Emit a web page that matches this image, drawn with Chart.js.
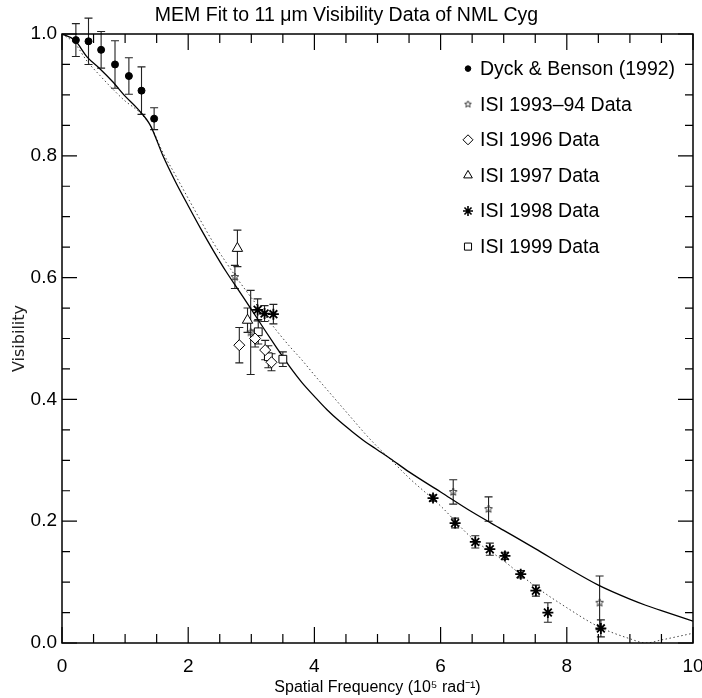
<!DOCTYPE html>
<html><head><meta charset="utf-8">
<script src="https://cdn.jsdelivr.net/npm/chart.js@4.4.1/dist/chart.umd.min.js"></script>
<style>html,body{margin:0;padding:0;background:#fff;}</style>
</head><body>
<canvas id="c" width="702" height="698"></canvas>
<script>
const FONT = "'Liberation Sans',Arial,sans-serif";

// model curves
const curveX  = [0,0.2,0.4,0.6,0.8,1.0,1.2,1.4,1.6,1.8,2.0,2.2,2.4,2.6,2.8,3.0,3.2,3.4,3.6,3.8,4.0,4.2,4.4,4.6,4.8,5.0,5.2,5.5,6.0,6.5,7.0,7.5,8.0,8.5,9.0,9.25,9.5,10];
const memFit  = [1.000,0.990,0.962,0.943,0.922,0.898,0.877,0.850,0.800,0.757,0.718,0.680,0.644,0.610,0.579,0.548,0.516,0.485,0.455,0.428,0.405,0.383,0.364,0.347,0.331,0.317,0.303,0.281,0.248,0.215,0.185,0.155,0.124,0.095,0.072,0.062,0.053,0.036];
const dotFit  = [1.000,0.985,0.955,0.932,0.910,0.890,0.874,0.850,0.805,0.768,0.730,0.693,0.657,0.625,0.595,0.567,0.540,0.513,0.488,0.465,0.440,0.416,0.392,0.368,0.344,0.322,0.302,0.271,0.225,0.172,0.135,0.093,0.058,0.027,0.007,0.000,0.005,0.016];

// observations
const dyckX = [0.22,0.42,0.62,0.84,1.06,1.26,1.46];
const dyckV = [0.990,0.988,0.974,0.950,0.931,0.907,0.861];
const dyckE = [0.027,0.038,0.030,0.039,0.030,0.039,0.018];

const isi9394X = [2.74,2.99,6.20,6.76,8.52];
const isi9394V = [0.601,0.510,0.248,0.220,0.066];
const isi9394E = [0.019,0.069,0.020,0.020,0.044];

const isi96X = [2.81,3.06,3.22,3.32];
const isi96V = [0.489,0.500,0.481,0.461];
const isi96E = [0.029,0.014,0.016,0.014];

const isi97X = [2.78,2.94];
const isi97V = [0.648,0.530];
const isi97E = [0.030,0.020];

const isi98X = [3.10,3.21,3.35,5.88,6.23,6.55,6.78,7.02,7.27,7.51,7.70,8.54];
const isi98V = [0.547,0.541,0.540,0.238,0.197,0.166,0.154,0.143,0.113,0.086,0.050,0.024];
const isi98E = [0.018,0.013,0.016,0.005,0.008,0.010,0.010,0.006,0.006,0.009,0.016,0.014];

const isi99X = [3.11,3.27,3.50];
const isi99V = [0.511,0.470,0.466];
const isi99E = [0.020,0.018,0.012];

const legendLabels = ['Dyck & Benson (1992)','ISI 1993\u201394 Data','ISI 1996 Data','ISI 1997 Data','ISI 1998 Data','ISI 1999 Data'];
const xTicks = [0,2,4,6,8,10];
const xTickLabels = ['0','2','4','6','8','10'];
const yTicks = [0,0.2,0.4,0.6,0.8,1.0];
const yTickLabels = ['0.0','0.2','0.4','0.6','0.8','1.0'];

function pts(xs, ys, es){ return xs.map((x,i)=>({x:x, y:ys[i], e: es? es[i] : 0})); }

function makeStar(r, lw){
  const s = Math.ceil(r*2+4);
  const c = document.createElement('canvas'); c.width = s; c.height = s;
  const g = c.getContext('2d');
  g.strokeStyle = '#333'; g.lineWidth = lw;
  g.beginPath();
  for (let i=0;i<10;i++){
    const a = -Math.PI/2 + i*Math.PI/5;
    const rr = (i%2) ? r*0.45 : r;
    g.lineTo(s/2 + rr*Math.cos(a), s/2 + rr*Math.sin(a));
  }
  g.closePath(); g.stroke();
  return c;
}
const smallStar = makeStar(4, 1);
const legendStar = makeStar(3.5, 1);

const obsStyle = [
  {pointStyle:'circle', radius:3.5, bg:'#000', bw:1},
  {pointStyle:smallStar, radius:4, bg:'#fff', bw:1},
  {pointStyle:'rectRot', radius:5.5, bg:'#fff', bw:1},
  {pointStyle:'triangle', radius:6, bg:'#fff', bw:1},
  {pointStyle:'star', radius:5.5, bg:'#000', bw:1.8},
  {pointStyle:'rect', radius:5.5, bg:'#fff', bw:1}
];
const legendStyle = [
  {pointStyle:'circle', radius:2.8, bg:'#000', bw:1},
  {pointStyle:legendStar, radius:3.5, bg:'#fff', bw:1},
  {pointStyle:'rectRot', radius:5, bg:'#fff', bw:1},
  {pointStyle:'triangle', radius:5, bg:'#fff', bw:1},
  {pointStyle:'star', radius:5, bg:'#000', bw:1.6},
  {pointStyle:'rect', radius:5, bg:'#fff', bw:1}
];

const obs = [
  pts(dyckX,dyckV,dyckE), pts(isi9394X,isi9394V,isi9394E), pts(isi96X,isi96V,isi96E),
  pts(isi97X,isi97V,isi97E), pts(isi98X,isi98V,isi98E), pts(isi99X,isi99V,isi99E)
];

const datasets = obs.map((d,i)=>({
  label: legendLabels[i], data: d, showLine:false,
  pointStyle: obsStyle[i].pointStyle, pointRadius: obsStyle[i].radius,
  pointBackgroundColor: obsStyle[i].bg, pointBorderColor:'#000', pointBorderWidth: obsStyle[i].bw,
  errorBars: true
}));
datasets.push({label:'MEM', data: pts(curveX, memFit), showLine:true, pointRadius:0, borderColor:'#000', borderWidth:1.3, cubicInterpolationMode:'monotone', fill:false});
datasets.push({label:'dotted', data: pts(curveX, dotFit), showLine:true, pointRadius:0, borderColor:'#444', borderWidth:1, borderDash:[1.5,2.5], cubicInterpolationMode:'monotone', fill:false});

const errorBarPlugin = {
  id:'errorBars',
  beforeDatasetsDraw(chart){
    const ctx = chart.ctx, xs = chart.scales.x, ys = chart.scales.y;
    ctx.save();
    ctx.strokeStyle = '#222'; ctx.lineWidth = 1.1;
    chart.data.datasets.forEach(ds=>{
      if (!ds.errorBars) return;
      ds.data.forEach(p=>{
        if (!p.e) return;
        const px = xs.getPixelForValue(p.x);
        const y1 = ys.getPixelForValue(p.y + p.e), y2 = ys.getPixelForValue(p.y - p.e);
        ctx.beginPath();
        ctx.moveTo(px, y1); ctx.lineTo(px, y2);
        ctx.moveTo(px-4, y1); ctx.lineTo(px+4, y1);
        ctx.moveTo(px-4, y2); ctx.lineTo(px+4, y2);
        ctx.stroke();
      });
    });
    ctx.restore();
  }
};

const framePlugin = {
  id:'frame',
  afterDraw(chart){
    const ctx = chart.ctx, a = chart.chartArea, xs = chart.scales.x, ys = chart.scales.y;
    ctx.save();
    ctx.strokeStyle = '#000'; ctx.lineWidth = 1.5;
    ctx.strokeRect(a.left, a.top, a.right - a.left, a.bottom - a.top);
    ctx.lineWidth = 1.2;
    ctx.beginPath();
    for (let k=0;k<=20;k++){
      const v = k*0.5, px = xs.getPixelForValue(v);
      const L = (k%4===0) ? 16 : 9;
      ctx.moveTo(px, a.bottom); ctx.lineTo(px, a.bottom - L);
      ctx.moveTo(px, a.top); ctx.lineTo(px, a.top + L);
    }
    for (let k=0;k<=20;k++){
      const v = k*0.05, py = ys.getPixelForValue(v);
      const L = (k%4===0) ? 15 : 8;
      ctx.moveTo(a.left, py); ctx.lineTo(a.left + L, py);
      ctx.moveTo(a.right, py); ctx.lineTo(a.right - L, py);
    }
    ctx.stroke();
    ctx.restore();
  }
};

const legendPlugin = {
  id:'customLegend',
  afterDraw(chart){
    const ctx = chart.ctx, a = chart.chartArea;
    const mx = a.right - 225, tx = a.right - 213;
    ctx.save();
    ctx.font = '19.5px ' + FONT;
    ctx.fillStyle = '#000';
    ctx.textBaseline = 'middle';
    ctx.textAlign = 'left';
    legendLabels.forEach((lab,i)=>{
      const y = a.top + 34.6 + i*35.6;
      const st = legendStyle[i];
      ctx.save();
      ctx.fillStyle = st.bg; ctx.strokeStyle = '#000'; ctx.lineWidth = st.bw;
      Chart.helpers.drawPoint(ctx, {pointStyle: st.pointStyle, radius: st.radius, borderWidth: st.bw, rotation: 0}, mx, y);
      ctx.restore();
      ctx.fillText(lab, tx, y + 1);
    });
    ctx.restore();
  }
};

new Chart(document.getElementById('c'), {
  type:'scatter',
  data:{datasets},
  plugins:[errorBarPlugin, framePlugin, legendPlugin],
  options:{
    responsive:false, animation:false,
    layout:{padding:{left:0,right:9,top:0,bottom:0}},
    plugins:{
      legend:{display:false}, tooltip:{enabled:false},
      title:{display:true, text:'MEM Fit to 11 \u03bcm Visibility Data of NML Cyg', color:'#000',
        font:{family:FONT, size:19.5, weight:'normal'}, padding:{top:4,bottom:6.6}}
    },
    scales:{
      x:{type:'linear', min:0, max:10,
        afterFit(s){ s.height = 55; s.paddingLeft = 0; s.paddingRight = 0; },
        afterBuildTicks(s){ s.ticks = xTicks.map(v=>({value:v})); },
        ticks:{callback:(v,i)=>xTickLabels[i], color:'#000', font:{family:FONT,size:19}, padding:12, maxRotation:0, autoSkip:false},
        grid:{display:false, drawTicks:false}, border:{display:false},
        title:{display:true, text:'Spatial Frequency (10\u2075 rad\u207b\u00b9)', color:'#000', font:{family:FONT,size:16}, padding:{top:0,bottom:1}}
      },
      y:{type:'linear', min:0, max:1,
        afterFit(s){ s.width = 62; s.paddingTop = 0; s.paddingBottom = 0; },
        afterBuildTicks(s){ s.ticks = yTicks.map(v=>({value:v})); },
        ticks:{callback:(v,i)=>yTickLabels[i], color:'#000', font:{family:FONT,size:19}, padding:5, autoSkip:false},
        grid:{display:false, drawTicks:false}, border:{display:false},
        title:{display:true, text:'Visibility', color:'#222', font:{family:"'DejaVu Sans',sans-serif",size:16}, padding:{top:10,bottom:0}}
      }
    }
  }
});
</script>
</body></html>
